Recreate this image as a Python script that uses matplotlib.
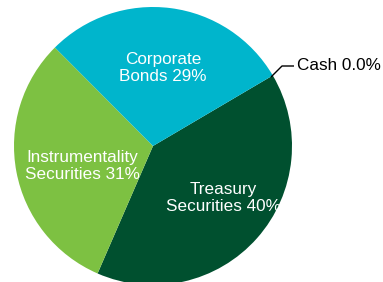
import matplotlib
matplotlib.use("Agg")
import matplotlib.pyplot as plt

categories = ["Cash", "Treasury\nSecurities", "Instrumentality\nSecurities", "Corporate\nBonds"]
values = [0.0, 40.0, 31.0, 29.0]
value_labels = ["0.0%", "40%", "31%", "29%"]
colors = ["#FFFFFF", "#00502F", "#7DC142", "#00B5CC"]

plt.rcParams['font.family'] = ['Liberation Sans', 'DejaVu Sans']

W, H = 383, 282
fig = plt.figure(figsize=(W / 100, H / 100), dpi=100)
cx, cy, r = 153, 146, 139
ax = fig.add_axes([(cx - r) / W, (H - cy - r) / H, 2 * r / W, 2 * r / H])

plot_vals = [max(v, 1e-6) for v in values]
ax.pie(plot_vals, colors=colors, startangle=30.5, counterclock=False,
       radius=1.0, wedgeprops=dict(linewidth=0))
ax.set_xlim(-1, 1)
ax.set_ylim(-1, 1)
ax.set_aspect('equal')
ax.axis('off')

def px(x, y):
    return (x - cx) / r, (cy - y) / r

fs = 12.3
# Labels inside slices
pos = {1: (223, 198), 2: (82, 166), 3: (163, 68)}
for i, (x, y) in pos.items():
    name = categories[i].split("\n")
    txt = name[0] + "\n" + name[1] + " " + value_labels[i]
    tx, ty = px(x, y)
    ax.text(tx, ty, txt, ha='center', va='center', color='white', fontsize=fs,
            linespacing=1.22, clip_on=False)

# Cash label with leader line
p0 = px(271, 77)
p1 = px(282, 66)
p2 = px(294, 66)
ax.plot([p0[0], p1[0], p2[0]], [p0[1], p1[1], p2[1]], color='black', lw=1.0,
        clip_on=False, solid_capstyle='butt')
tx, ty = px(297, 66)
ax.text(tx, ty, categories[0] + " " + value_labels[0], ha='left', va='center',
        color='black', fontsize=fs, clip_on=False)

fig.savefig("out.png", dpi=100)
